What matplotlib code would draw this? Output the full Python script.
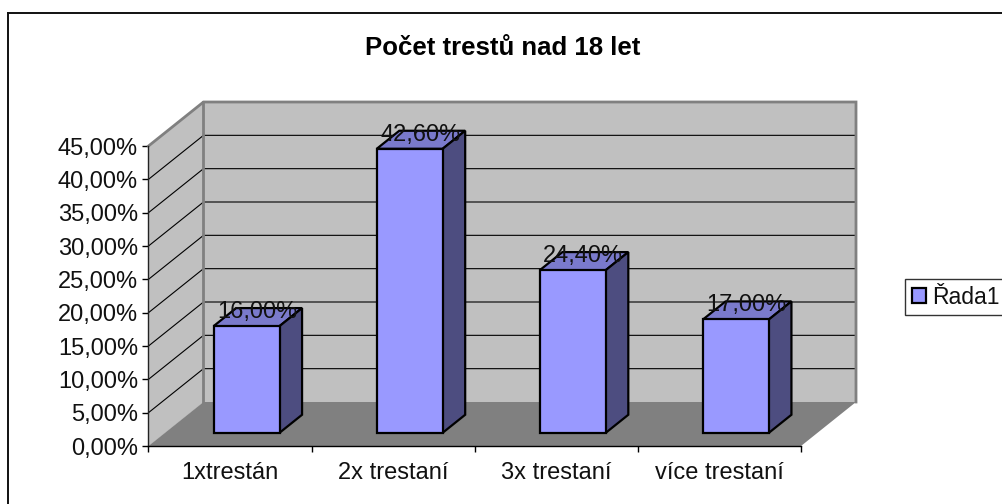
import matplotlib
matplotlib.use("Agg")
import matplotlib.pyplot as plt
from matplotlib.lines import Line2D
from matplotlib.patches import Polygon, Patch

categories = ["1xtrestán", "2x trestaní", "3x trestaní", "více trestaní"]
values = [16.0, 42.6, 24.4, 17.0]
value_labels = ["16,00%", "42,60%", "24,40%", "17,00%"]
y_ticks = [0, 5, 10, 15, 20, 25, 30, 35, 40, 45]
y_tick_labels = ["0,00%", "5,00%", "10,00%", "15,00%", "20,00%", "25,00%",
                 "30,00%", "35,00%", "40,00%", "45,00%"]
title = "Počet trestů nad 18 let"
series_name = "Řada1"

plt.rcParams["font.family"] = ["Liberation Sans", "DejaVu Sans"]
W, H = 1003, 504
fig = plt.figure(figsize=(W / 100, H / 100), dpi=100)
L, R, T, B = 148.5, 801, 146, 446
ax = fig.add_axes([L / W, 1 - B / H, (R - L) / W, (B - T) / H])
ax.set_xlim(0, 4)
ax.set_ylim(0, 45)
ax.patch.set_visible(False)

# depth of the pseudo-3D box, in data units
DX = 55 / ((R - L) / 4)
DY = 44 / ((B - T) / 45)


def poly(points, **kw):
    ax.add_patch(Polygon(points, closed=True, clip_on=False, **kw))


WALL, FLOOR = "#C0C0C0", "#808080"
poly([(0, 0), (DX, DY), (4 + DX, DY), (4 + DX, 45 + DY), (DX, 45 + DY)], facecolor=WALL, edgecolor="none", zorder=1)
poly([(0, 0), (0, 45), (DX, 45 + DY), (DX, DY)], facecolor=WALL, edgecolor="none", zorder=1)
poly([(0, 0), (4, 0), (4 + DX, DY), (DX, DY)], facecolor=FLOOR, edgecolor="none", zorder=2)

for v in y_ticks[1:-1]:
    ax.plot([0, DX, 4 + DX], [v, v + DY, v + DY], color="black", lw=0.8, zorder=1.5, clip_on=False)
ax.plot([0, DX, 4 + DX, 4 + DX], [45, 45 + DY, 45 + DY, DY], color=FLOOR, lw=2, zorder=1.6, clip_on=False,
        solid_joinstyle="miter")
ax.plot([DX, DX], [DY, 45 + DY], color=FLOOR, lw=2, zorder=1.6, clip_on=False)

# bars
D0, D1 = 0.30, 0.71
BW = 0.404
xs = [i + 0.5 + D0 * DX for i in range(len(values))]
base = D0 * DY
ddx, ddy = (D1 - D0) * DX, (D1 - D0) * DY
FACE, TOP, SIDE = "#9999FF", "#7A7ACC", "#4D4D80"
ax.bar(xs, values, BW, bottom=base, color=FACE, edgecolor="black", linewidth=1.6, zorder=5, clip_on=False)
for x, v in zip(xs, values):
    l, r = x - BW / 2, x + BW / 2
    top = base + v
    poly([(l, top), (r, top), (r + ddx, top + ddy), (l + ddx, top + ddy)], facecolor=TOP, edgecolor="black",
         linewidth=1.6, zorder=4, joinstyle="miter")
    poly([(r, base), (r + ddx, base + ddy), (r + ddx, top + ddy), (r, top)], facecolor=SIDE, edgecolor="black",
         linewidth=1.6, zorder=4, joinstyle="miter")

for x, v, s in zip(xs, values, value_labels):
    ax.annotate(s, (x, base + v), xytext=(10.5, 14), textcoords="offset pixels",
                ha="center", va="center", fontsize=17, color="#111111", zorder=7, annotation_clip=False)

for s in ("top", "right"):
    ax.spines[s].set_visible(False)
ax.spines["left"].set_color("#222222")
ax.spines["bottom"].set_color("black")
ax.spines["left"].set_linewidth(1)
ax.spines["bottom"].set_linewidth(1)
for sp in ax.spines.values():
    sp.set_zorder(6)

ax.set_yticks(y_ticks)
ax.set_yticklabels(y_tick_labels, fontsize=17, color="#111111")
ax.set_xticks(range(5))
ax.set_xticklabels([""] * 5)
ax.tick_params(axis="both", length=4, width=1, color="black")
ax.tick_params(axis="y", pad=3.5)
for i, c in enumerate(categories):
    ax.annotate(c, (i + 0.5, 0), xytext=(0, -27), textcoords="offset pixels", ha="center", va="center",
                fontsize=17, color="#111111", annotation_clip=False)

fig.text(503 / W, 1 - 48 / H, title, ha="center", va="center", fontsize=18.5, fontweight="bold", color="black")

# chart frame: only the top and left edges fall inside the image
fig.add_artist(Line2D([8.5 / W, 1], [1 - 12.5 / H, 1 - 12.5 / H], color="#111111", lw=1.4, transform=fig.transFigure))
fig.add_artist(Line2D([8.5 / W, 8.5 / W], [1 - 12.5 / H, 0], color="#111111", lw=1.4, transform=fig.transFigure))

leg = fig.legend(handles=[Patch(facecolor=FACE, edgecolor="black", linewidth=1.6, label=series_name)],
                 loc="center left", bbox_to_anchor=(905 / W, 1 - 297 / H), borderaxespad=0,
                 fontsize=16.5, frameon=True, fancybox=False, edgecolor="#333333", framealpha=1,
                 handlelength=0.62, handleheight=0.62, handletextpad=0.25, borderpad=0.3, labelcolor="#111111")
leg.get_frame().set_linewidth(1)

fig.savefig("out.png", dpi=100)
